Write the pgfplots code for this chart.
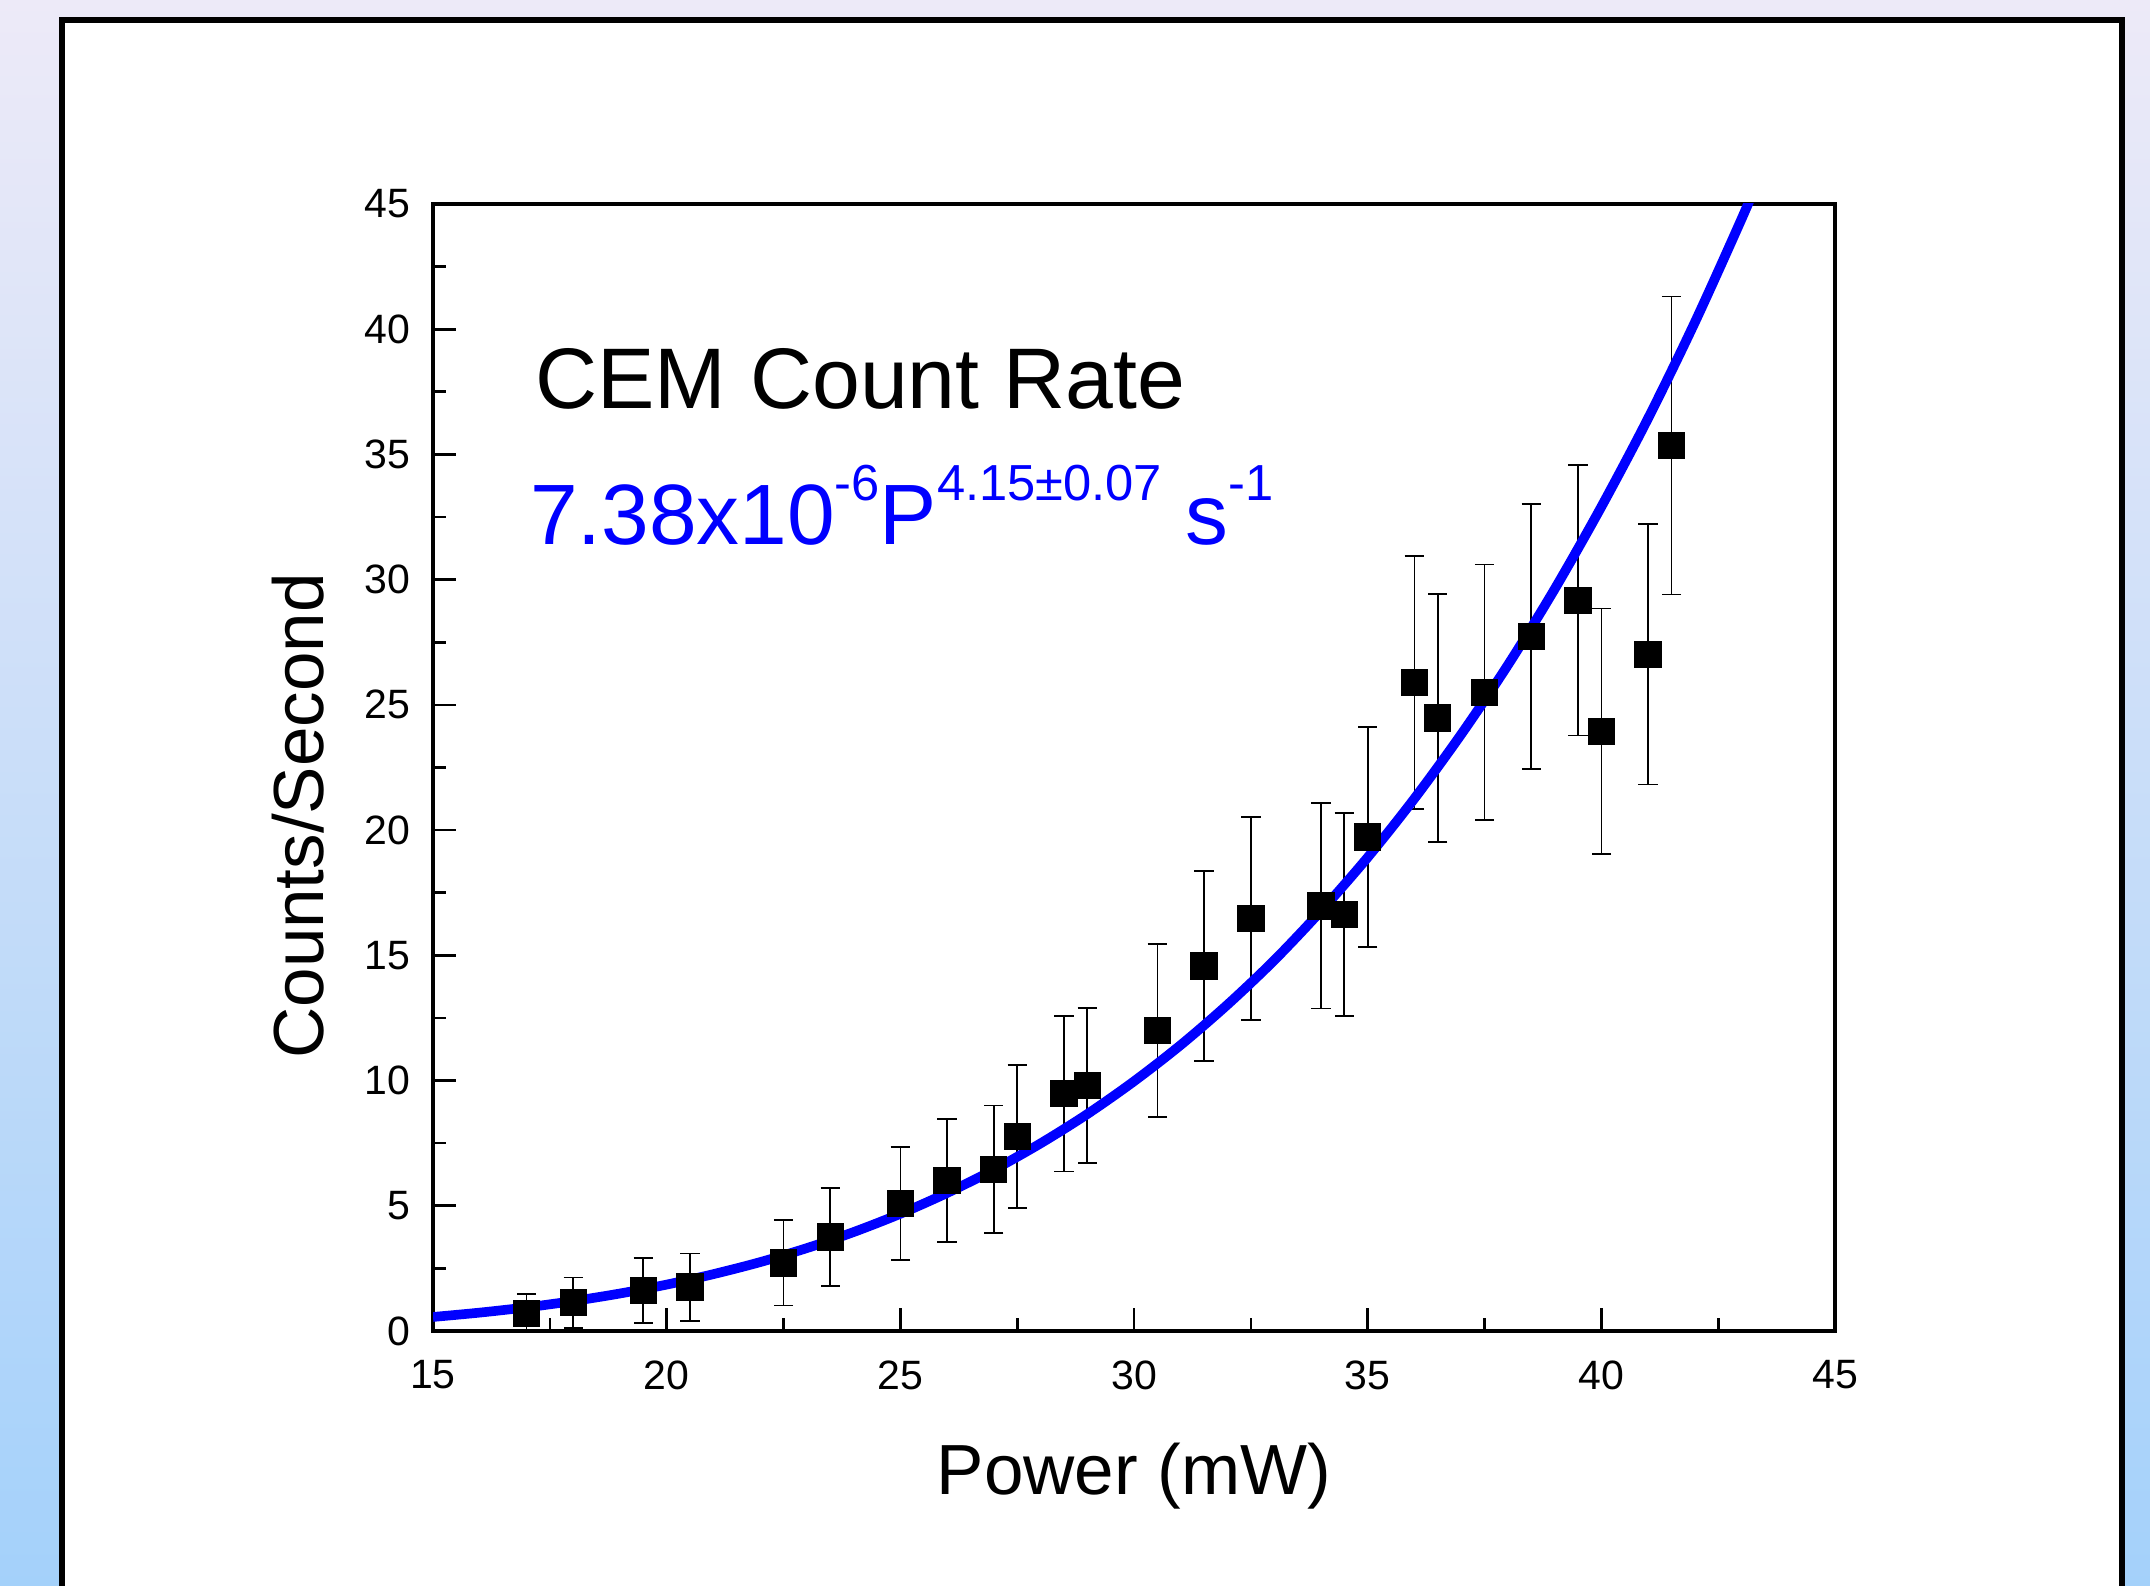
\documentclass[border=0pt]{standalone}
\usepackage{fontspec}
\setmainfont{Liberation Sans}
\usepackage{pgfplots}
\pgfplotsset{compat=1.18}
\definecolor{bgtop}{RGB}{237,234,248}
\definecolor{bgbot}{RGB}{164,209,250}
\definecolor{fitblue}{RGB}{0,0,255}
\begin{document}
\begin{tikzpicture}[x=1pt,y=1pt]
\path[use as bounding box] (0,0) rectangle (645,475.8);
\clip (0,0) rectangle (645,475.8);
\shade[top color=bgtop, bottom color=bgbot] (0,0) rectangle (645,475.8);
\draw[line width=1.7pt, fill=white] (18.5,-10) -- (18.5,469.8) -- (636.6,469.8) -- (636.6,-10);
\begin{axis}[
  at={(129.9pt,76.5pt)}, anchor=south west,
  scale only axis, width=420.6pt, height=338.1pt,
  xmin=15, xmax=45, ymin=0, ymax=45,
  xtick={15,20,...,45}, ytick={0,5,...,45},
  minor x tick num=1, minor y tick num=1,
  tick align=inside, xtick pos=left, ytick pos=left,
  major tick length=7pt, minor tick length=4pt,
  every tick/.style={black, line width=0.8pt},
  axis line style={line width=1pt},
  /pgf/number format/assume math mode=true,
  tick label style={font=\fontsize{12.3}{14}\selectfont},
  yticklabel style={xshift=-3.3pt},
  xticklabel style={yshift=-5.4pt},
]
\addplot[only marks, mark=square*, mark size=3.9pt, black,
  error bars/.cd, y dir=both, y explicit,
  error bar style={line width=0.5pt, black},
  error mark options={rotate=90, mark size=2.9pt, line width=0.5pt, black}]
  table[x=x, y=y, y error=e] {
x y e
17.0 0.69 0.80
18.0 1.13 1.00
19.5 1.61 1.30
20.5 1.75 1.35
22.5 2.72 1.70
23.5 3.75 1.95
25.0 5.09 2.25
26.0 6.01 2.45
27.0 6.45 2.55
27.5 7.76 2.85
28.5 9.47 3.10
29.0 9.80 3.10
30.5 12.00 3.45
31.5 14.58 3.80
32.5 16.48 4.05
34.0 16.97 4.10
34.5 16.64 4.05
35.0 19.72 4.40
36.0 25.90 5.05
36.5 24.47 4.95
37.5 25.50 5.10
38.5 27.73 5.30
39.5 29.18 5.40
40.0 23.95 4.90
41.0 27.02 5.20
41.5 35.36 5.95
};
\addplot[fitblue, line width=2.9pt, smooth] coordinates {
(15,0.56) (16,0.734) (17,0.943) (18,1.196) (19,1.497) (20,1.852)
(21,2.27) (22,2.75) (23,3.31) (24,3.95) (25,4.68) (26,5.51)
(27,6.44) (28,7.49) (29,8.66) (30,9.97) (31,11.42) (32,13.03)
(33,14.80) (34,16.77) (35,18.91) (36,21.26) (37,23.82) (38,26.59)
(39,29.62) (40,32.91) (41,36.44) (42,40.27) (43,44.40) (43.5,46.6)
};
\end{axis}
\node[anchor=base west, inner sep=0, font=\fontsize{25.8}{30}\selectfont] at (160.4,353.2) {CEM Count Rate};
\node[anchor=base west, inner sep=0, text=fitblue, font=\fontsize{25.7}{30}\selectfont] at (158.8,312.5)
  {7.38x10\raisebox{13.2pt}{\fontsize{15.2}{16}\selectfont -6}P\raisebox{13.2pt}{\fontsize{15.2}{16}\selectfont 4.15±0.07}\ s\raisebox{13.2pt}{\fontsize{15.2}{16}\selectfont -1}};
\node[rotate=90, anchor=base, inner sep=0, font=\fontsize{21.3}{24}\selectfont] at (97.1,231) {Counts/Second};
\node[anchor=base, inner sep=0, font=\fontsize{21.3}{24}\selectfont] at (340.2,27.3) {Power (mW)};
\end{tikzpicture}
\end{document}
